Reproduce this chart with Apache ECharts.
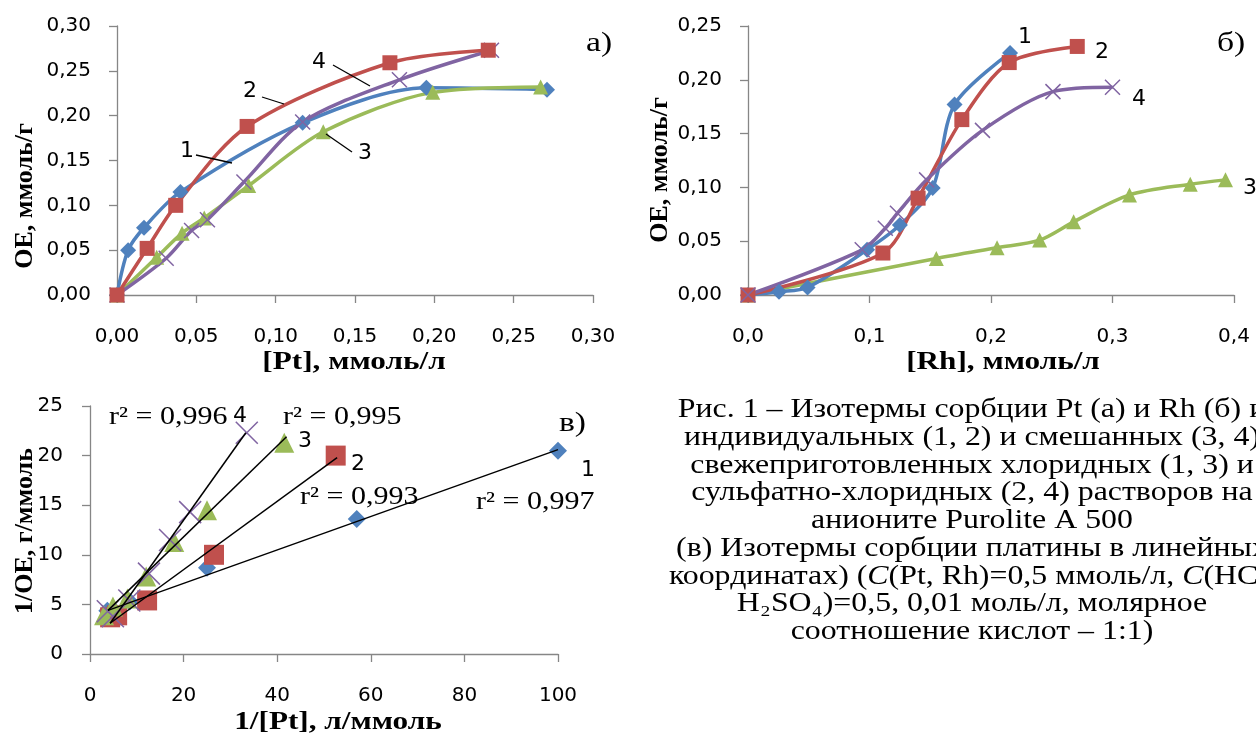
<!DOCTYPE html>
<html>
<head>
<meta charset="utf-8">
<script src="https://cdn.jsdelivr.net/npm/echarts@6/dist/echarts.min.js"></script>
<style>
html, body { margin: 0; padding: 0; background: #fff; }
#chartBox { width: 1256px; height: 733px; }
</style>
</head>
<body>
<div id="chartBox"></div>
<script>
// а) сорбция Pt: [Pt], ммоль/л -> ОЕ, ммоль/г
var ptX1 = [0, 0.007, 0.017, 0.040, 0.117, 0.195, 0.271];
var ptY1 = [0, 0.050, 0.075, 0.115, 0.192, 0.231, 0.229];
var ptX2 = [0, 0.019, 0.037, 0.082, 0.172, 0.234];
var ptY2 = [0, 0.052, 0.100, 0.188, 0.259, 0.273];
var ptX3 = [0, 0.025, 0.041, 0.055, 0.083, 0.130, 0.199, 0.267];
var ptY3 = [0, 0.042, 0.069, 0.086, 0.122, 0.182, 0.226, 0.232];
var ptX4 = [0, 0.031, 0.047, 0.057, 0.080, 0.117, 0.178, 0.236];
var ptY4 = [0, 0.041, 0.072, 0.084, 0.126, 0.193, 0.240, 0.273];

// б) сорбция Rh
var rhX1 = [0, 0.0255, 0.049, 0.098, 0.125, 0.152, 0.170, 0.2157];
var rhY1 = [0, 0.003, 0.007, 0.042, 0.065, 0.0995, 0.177, 0.225];
var rhX2 = [0, 0.111, 0.140, 0.176, 0.215, 0.271];
var rhY2 = [0, 0.039, 0.090, 0.163, 0.216, 0.231];
var rhX3 = [0, 0.155, 0.205, 0.240, 0.268, 0.314, 0.364, 0.393];
var rhY3 = [0, 0.034, 0.044, 0.051, 0.068, 0.093, 0.103, 0.107];
var rhX4 = [0, 0.094, 0.113, 0.123, 0.147, 0.193, 0.251, 0.300];
var rhY4 = [0, 0.042, 0.062, 0.076, 0.107, 0.153, 0.189, 0.193];

// в) линейные координаты 1/[Pt] -> 1/ОЕ
var invX1 = [3.7, 5.1, 8.5, 25, 57, 100];
var invY1 = [4.35, 4.4, 5.3, 8.7, 13.6, 20.5];
var invX2 = [4.3, 5.8, 12.2, 26.5, 52.5];
var invY2 = [3.7, 3.9, 5.4, 10.0, 20.0];
var invX3 = [3.0, 4.9, 8.0, 12.0, 18.0, 25.0, 41.5];
var invY3 = [3.9, 4.8, 5.6, 7.8, 11.3, 14.5, 21.3];
var invX4 = [3.8, 4.9, 8.4, 12.6, 17.1, 21.4, 33.5];
var invY4 = [4.3, 3.8, 5.4, 8.1, 11.5, 14.3, 22.3];

// линии тренда (концы)
var fit1X = [3.85, 100], fit1Y = [4.4, 20.6];
var fit2X = [4.3, 52.8], fit2Y = [3.1, 19.8];
var fit3X = [3.85, 42], fit3Y = [4.4, 21.9];
var fit4X = [4.3, 33.3], fit4Y = [3.1, 22.3];

var colors = ['#4F81BD', '#C0504D', '#9BBB59', '#8064A2'];
var crossPath = 'path://M0,0L10,10M10,0L0,10';
var sans = 'DejaVu Sans';
var serif = 'Liberation Serif';
var stretch = 1.2; // исходная картинка растянута по горизонтали

function zip(xs, ys) {
    return xs.map(function (x, i) { return [x, ys[i]]; });
}

function valueAxis(gridIndex, min, max, step, digits, margin) {
    return {
        type: 'value',
        gridIndex: gridIndex,
        min: min,
        max: max,
        interval: step,
        axisLine: { show: true, onZero: false, lineStyle: { color: '#868686', width: 1.3 } },
        axisTick: { show: true, length: 8, lineStyle: { color: '#868686', width: 1.3 } },
        splitLine: { show: false },
        axisLabel: {
            color: '#000',
            fontFamily: sans,
            fontSize: 20,
            margin: margin,
            showMaxLabel: true,
            formatter: function (v) {
                return digits == null ? String(v) : v.toFixed(digits).replace('.', ',');
            }
        }
    };
}

var symbols = [
    { symbol: 'diamond', size: 16 },
    { symbol: 'rect', size: 15 },
    { symbol: 'triangle', size: 15 },
    { symbol: crossPath, size: 15 }
];

function curve(idx, k, xs, ys) {
    var s = symbols[k];
    return {
        type: 'line',
        xAxisIndex: idx,
        yAxisIndex: idx,
        data: zip(xs, ys),
        smooth: 0.3,
        symbol: s.symbol,
        symbolSize: s.size,
        showAllSymbol: true,
        lineStyle: { color: colors[k], width: 3.5 },
        itemStyle: { color: colors[k], borderColor: colors[k], borderWidth: k === 3 ? 1.5 : 0 },
        silent: true
    };
}

function points(k, xs, ys) {
    var big = [18, 20, 20, 22];
    return {
        type: 'scatter',
        xAxisIndex: 2,
        yAxisIndex: 2,
        data: zip(xs, ys),
        symbol: symbols[k].symbol,
        symbolSize: big[k],
        itemStyle: { color: colors[k], opacity: 1, borderColor: colors[k], borderWidth: k === 3 ? 1.5 : 0 },
        silent: true,
        z: 2
    };
}

function trend(xs, ys) {
    return {
        type: 'line',
        xAxisIndex: 2,
        yAxisIndex: 2,
        data: zip(xs, ys),
        symbol: 'none',
        lineStyle: { color: '#000', width: 1.5 },
        silent: true,
        z: 3
    };
}

// текст: позиция в элементе, чтобы растяжение шло от точки привязки
function txt(x, y, s, size, family, opts) {
    opts = opts || {};
    return {
        type: 'text',
        x: x,
        y: y,
        scaleX: opts.scaleX || 1,
        rotation: opts.rotate ? Math.PI / 2 : 0,
        z: 10,
        style: {
            text: s,
            x: 0,
            y: 0,
            fill: '#000',
            fontSize: size,
            fontFamily: family,
            fontWeight: opts.bold ? 'bold' : 'normal',
            align: opts.align || 'left',
            verticalAlign: 'middle',
            rich: opts.rich
        }
    };
}

function lead(x1, y1, x2, y2) {
    return {
        type: 'line',
        shape: { x1: x1, y1: y1, x2: x2, y2: y2 },
        style: { stroke: '#000', lineWidth: 1.3 },
        z: 10
    };
}

function title(x, y, s, rotate) {
    return txt(x, y, s, 26, serif, {
        bold: true,
        align: 'center',
        rotate: rotate,
        scaleX: rotate ? 1 : stretch
    });
}

var captionLines = [
    'Рис. 1 – Изотермы сорбции Pt (а) и Rh (б) и',
    'индивидуальных (1, 2) и смешанных (3, 4)',
    'свежеприготовленных хлоридных (1, 3) и',
    'сульфатно-хлоридных (2, 4) растворов на',
    'анионите Purolite A 500',
    '(в) Изотермы сорбции платины в линейных',
    '{n|координатах) (}{i|C}{n|(Pt, Rh)=0,5 ммоль/л, }{i|C}{n|(HCl,}',
    'H₂SO₄)=0,5, 0,01 моль/л, молярное',
    'соотношение кислот – 1:1)'
];

var sc = { scaleX: stretch };
var num = 22;
var graphics = [
    // а)
    txt(180, 151, '1', num, sans), lead(196, 155, 232, 163),
    txt(243, 91, '2', num, sans), lead(262, 97, 284, 104),
    txt(312, 62, '4', num, sans), lead(333, 65, 370, 86),
    txt(358, 153, '3', num, sans), lead(352, 152, 326, 134),
    txt(586, 44, 'а)', 28, serif, sc),
    title(25, 196, 'ОЕ, ммоль/г', true),
    title(354, 362, '[Pt], ммоль/л', false),
    // б)
    txt(1018, 37, '1', num, sans),
    txt(1095, 52, '2', num, sans),
    txt(1132, 99, '4', num, sans),
    txt(1243, 188, '3', num, sans),
    txt(1217, 44, 'б)', 28, serif, sc),
    title(660, 170, 'ОЕ, ммоль/г', true),
    title(1003, 362, '[Rh], ммоль/л', false),
    // в)
    txt(109, 417, 'r² = 0,996', 25, serif, sc),
    txt(233, 416, '4', num, sans),
    txt(283, 417, 'r² = 0,995', 25, serif, sc),
    txt(298, 441, '3', num, sans),
    txt(351, 464, '2', num, sans),
    txt(300, 497, 'r² = 0,993', 25, serif, sc),
    txt(559, 424, 'в)', 28, serif, sc),
    txt(581, 470, '1', num, sans),
    txt(476, 502, 'r² = 0,997', 25, serif, sc),
    title(25, 531, '1/ОЕ, г/ммоль', true),
    title(338, 722, '1/[Pt], л/ммоль', false)
];

// подпись к рисунку
captionLines.forEach(function (line, i) {
    graphics.push(txt(972, 410 + i * 27.75, line, 27, serif, {
        align: 'center',
        scaleX: 1.18,
        rich: {
            n: { fontFamily: serif, fontSize: 27, fill: '#000' },
            i: { fontFamily: serif, fontSize: 27, fontStyle: 'italic', fill: '#000' }
        }
    }));
});

var chartDom = document.getElementById('chartBox');
var myChart = echarts.init(chartDom, null, { renderer: 'canvas' });

var option = {
    animation: false,
    backgroundColor: '#fff',
    grid: [
        { left: 117, top: 26, width: 476, height: 269 },
        { left: 748, top: 26, width: 486, height: 269 },
        { left: 90, top: 406, width: 468, height: 248 }
    ],
    xAxis: [
        valueAxis(0, 0, 0.30, 0.05, 2, 32),
        valueAxis(1, 0, 0.4, 0.1, 1, 32),
        valueAxis(2, 0, 100, 20, null, 32)
    ],
    yAxis: [
        valueAxis(0, 0, 0.30, 0.05, 2, 26),
        valueAxis(1, 0, 0.25, 0.05, 2, 26),
        valueAxis(2, 0, 25, 5, null, 27)
    ],
    series: [
        curve(0, 0, ptX1, ptY1),
        curve(0, 2, ptX3, ptY3),
        curve(0, 3, ptX4, ptY4),
        curve(0, 1, ptX2, ptY2),
        curve(1, 2, rhX3, rhY3),
        curve(1, 0, rhX1, rhY1),
        curve(1, 1, rhX2, rhY2),
        curve(1, 3, rhX4, rhY4),
        points(0, invX1, invY1),
        points(1, invX2, invY2),
        points(2, invX3, invY3),
        points(3, invX4, invY4),
        trend(fit1X, fit1Y),
        trend(fit2X, fit2Y),
        trend(fit3X, fit3Y),
        trend(fit4X, fit4Y)
    ],
    graphic: graphics
};
myChart.setOption(option);
</script>
</body>
</html>
